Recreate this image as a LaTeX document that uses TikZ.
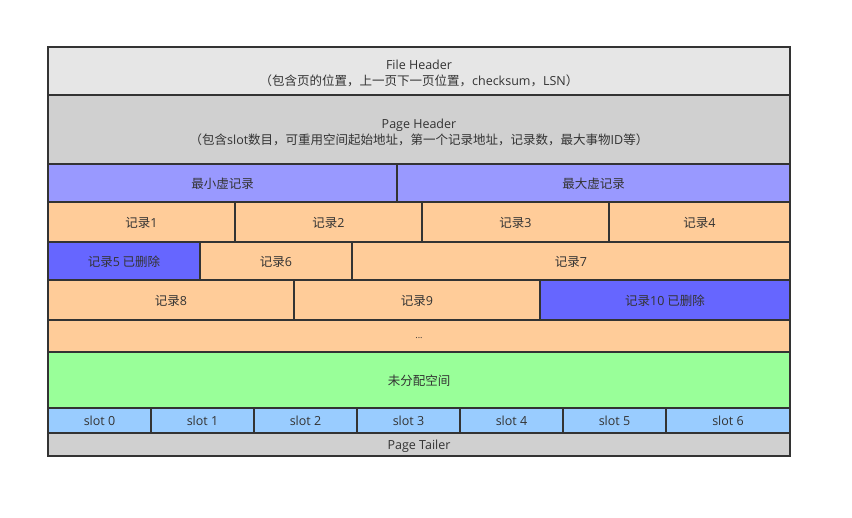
\documentclass[tikz,border=0pt]{standalone}
\usepackage{fontspec}
\setmainfont{Noto Sans CJK SC}
\newfontfamily\cjk{Noto Sans CJK SC}
\newfontfamily\latf{Open Sans}
\newcommand\lat[1]{{\latf #1}}
\definecolor{linec}{HTML}{333333}
\definecolor{fhc}{HTML}{E6E6E6}
\definecolor{phc}{HTML}{D0D0D0}
\definecolor{virc}{HTML}{9999FF}
\definecolor{recc}{HTML}{FFCC99}
\definecolor{delc}{HTML}{6666FF}
\definecolor{freec}{HTML}{99FF99}
\definecolor{slotc}{HTML}{99CCFF}
\tikzset{
  cellfont/.style={text=linec, font=\cjk\fontsize{12.5}{16}\selectfont},
  cell/.style={draw=linec, line width=1.6pt, rectangle, inner sep=0pt, outer sep=0pt, anchor=north west,
    cellfont, text height=10.5pt, text depth=0pt},
  twoline/.style={align=center, cellfont, yshift=-2.5pt, inner sep=0pt},
  slotcell/.style={cell, fill=slotc, minimum height=25pt, minimum width=103pt},
}
\begin{document}
\begin{tikzpicture}[x=1pt,y=-1pt]
\useasboundingbox (0,0) rectangle (852,518);
% headers
\node[cell, fill=fhc, minimum width=742pt, minimum height=48pt,
  label={[twoline, name=fhtext]center:\lat{File Header}\\（包含页的位置，上一页下一页位置，\lat{checksum}，\lat{LSN}）}] (fh) at (48,47) {};
\node[cell, fill=phc, minimum width=742pt, minimum height=69pt,
  label={[twoline, name=phtext]center:\lat{Page Header}\\（包含\lat{slot}数目，可重用空间起始地址，第一个记录地址，记录数，最大事物\lat{ID}等）}] (ph) at (48,95) {};
% virtual records
\node[cell, fill=virc, minimum width=349pt, minimum height=38pt] (vmin) at (48,164) {最小虚记录};
\node[cell, fill=virc, minimum width=393pt, minimum height=38pt] (vmax) at (397,164) {最大虚记录};
% records row 1
\node[cell, fill=recc, minimum width=187pt, minimum height=40pt] (r1) at (48,202) {记录\lat{1}};
\node[cell, fill=recc, minimum width=187pt, minimum height=40pt] (r2) at (235,202) {记录\lat{2}};
\node[cell, fill=recc, minimum width=187pt, minimum height=40pt] (r3) at (422,202) {记录\lat{3}};
\node[cell, fill=recc, minimum width=181pt, minimum height=40pt] (r4) at (609,202) {记录\lat{4}};
% records row 2
\node[cell, fill=delc, minimum width=152pt, minimum height=38pt] (r5) at (48,242) {记录\lat{5} 已删除};
\node[cell, fill=recc, minimum width=152pt, minimum height=38pt] (r6) at (200,242) {记录\lat{6}};
\node[cell, fill=recc, minimum width=438pt, minimum height=38pt] (r7) at (352,242) {记录\lat{7}};
% records row 3
\node[cell, fill=recc, minimum width=246pt, minimum height=40pt] (r8) at (48,280) {记录\lat{8}};
\node[cell, fill=recc, minimum width=246pt, minimum height=40pt] (r9) at (294,280) {记录\lat{9}};
\node[cell, fill=delc, minimum width=250pt, minimum height=40pt] (r10) at (540,280) {记录\lat{10} 已删除};
% dots
\node[cell, fill=recc, minimum width=742pt, minimum height=32pt, font=\latf\fontsize{9}{10}\selectfont, text height=6pt] (dots) at (48,320) {...};
% free space
\node[cell, fill=freec, minimum width=742pt, minimum height=56pt] (free) at (48,352) {未分配空间};
% slots
\node[slotcell] (s0) at (48,408) {\lat{slot 0}};
\node[slotcell] (s1) at (151,408) {\lat{slot 1}};
\node[slotcell] (s2) at (254,408) {\lat{slot 2}};
\node[slotcell] (s3) at (357,408) {\lat{slot 3}};
\node[slotcell] (s4) at (460,408) {\lat{slot 4}};
\node[slotcell] (s5) at (563,408) {\lat{slot 5}};
\node[slotcell, minimum width=124pt] (s6) at (666,408) {\lat{slot 6}};
% tailer
\node[cell, fill=phc, minimum width=742pt, minimum height=23pt] (tail) at (48,433) {\lat{Page Tailer}};
\end{tikzpicture}
\end{document}
